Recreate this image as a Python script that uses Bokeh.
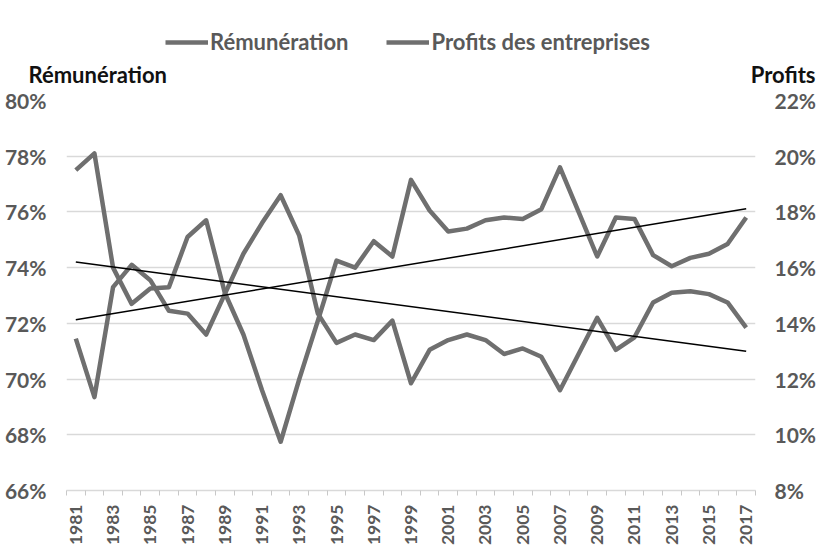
import math
from bokeh.plotting import figure
from bokeh.layouts import column
from bokeh.models import Range1d, LinearAxis, FixedTicker, Legend, LegendItem, Label
from bokeh.embed import file_html
from bokeh.resources import INLINE

# ---- data ----
years = list(range(1981, 2018))
remuneration = [77.5, 78.1, 74.0, 72.7, 73.25, 73.3, 75.1, 75.7, 73.1, 71.6,
                69.6, 67.75, 70.0, 72.1, 74.25, 74.0, 74.95, 74.4, 77.15, 76.05,
                75.3, 75.4, 75.7, 75.8, 75.75, 76.1, 77.6, 76.0, 74.4, 75.8,
                75.75, 74.45, 74.05, 74.35, 74.5, 74.85, 75.8]
profits = [13.45, 11.35, 15.3, 16.1, 15.55, 14.45, 14.35, 13.6, 15.05, 16.5,
           17.6, 18.6, 17.15, 14.35, 13.3, 13.6, 13.4, 14.1, 11.85, 13.05,
           13.4, 13.6, 13.4, 12.9, 13.1, 12.8, 11.6, 12.9, 14.2, 13.05,
           13.5, 14.75, 15.1, 15.15, 15.05, 14.75, 13.85]
trend_years = [1981, 2017]
trend_remuneration = [72.13, 76.11]
trend_profits = [16.2, 13.0]

left_ticks = [66, 68, 70, 72, 74, 76, 78, 80]
right_ticks = [8, 10, 12, 14, 16, 18, 20, 22]
label_years = [y for y in years if y % 2 == 1]

series_names = ["Rémunération", "Profits des entreprises"]
left_title = "Rémunération"
right_title = "Profits"

FONT = "Lato"
GRAY_TXT = "#595959"
LINE_COL = "#6f6f6f"
W = 819
HEAD_H = 87

# ---------------- header (legend + axis titles) ----------------
head = figure(width=W, height=HEAD_H, output_backend="svg", toolbar_location=None,
              x_range=Range1d(0, W), y_range=Range1d(HEAD_H, 0),
              x_axis_type=None, y_axis_type=None,
              min_border_left=0, min_border_right=0, min_border_top=0,
              min_border_bottom=0)
head.frame_align = False
head.outline_line_color = None
head.grid.visible = False
head.background_fill_color = "white"
head.border_fill_color = "white"

nan = float("nan")
h1 = head.line([nan], [nan], line_color=LINE_COL, line_width=4.5)
h2 = head.line([nan], [nan], line_color=LINE_COL, line_width=4.5)
legend = Legend(items=[LegendItem(label=series_names[0], renderers=[h1]),
                       LegendItem(label=series_names[1], renderers=[h2])],
                orientation="horizontal", location=(165, HEAD_H - 55))
legend.label_text_font = FONT
legend.label_text_font_style = "bold"
legend.label_text_font_size = "22px"
legend.label_text_color = GRAY_TXT
legend.glyph_width = 43
legend.glyph_height = 24
legend.label_height = 24
legend.label_standoff = 2
legend.spacing = 38
legend.padding = 0
legend.margin = 0
legend.border_line_color = None
legend.background_fill_alpha = 0
head.add_layout(legend, "center")

head.add_layout(Label(x=28, y=73.5, text=left_title, text_font=FONT,
                      text_font_style="bold", text_font_size="22px",
                      text_color="#111111", text_baseline="middle"))
head.add_layout(Label(x=815, y=73.5, text=right_title, text_font=FONT,
                      text_font_style="bold", text_font_size="22px",
                      text_color="#111111", text_baseline="middle",
                      text_align="right"))

# ---------------- main chart ----------------
p = figure(width=W, height=549 - HEAD_H, output_backend="svg",
           toolbar_location=None,
           x_range=Range1d(1980.5, 2017.5), y_range=Range1d(66, 80),
           min_border_left=66, min_border_right=61, min_border_top=100 - HEAD_H,
           min_border_bottom=59)
p.frame_align = False
p.extra_y_ranges = {"right": Range1d(8, 22)}
p.outline_line_color = None
p.background_fill_color = "white"
p.border_fill_color = "white"

# x axis
xa = p.xaxis[0]
xa.ticker = FixedTicker(ticks=label_years,
                        minor_ticks=[y - 0.5 for y in years] + [years[-1] + 0.5])
xa.major_label_orientation = math.pi / 2
xa.major_label_text_font = FONT
xa.major_label_text_font_style = "bold"
xa.major_label_text_font_size = "17.5px"
xa.major_label_text_color = GRAY_TXT
xa.major_label_standoff = 9
xa.axis_line_color = "#d9d9d9"
xa.axis_line_width = 1.5
xa.major_tick_line_color = None
xa.major_tick_out = 5
xa.major_tick_in = 0
xa.minor_tick_line_color = "#c8c8c8"
xa.minor_tick_out = 5
xa.minor_tick_in = 0

# left y axis
ya = p.yaxis[0]
ya.ticker = FixedTicker(ticks=left_ticks, minor_ticks=[])
ya.major_label_overrides = {t: f"{t}%" for t in left_ticks}
ya.major_label_text_font = FONT
ya.major_label_text_font_style = "bold"
ya.major_label_text_font_size = "21px"
ya.major_label_text_color = GRAY_TXT
ya.major_label_standoff = 20
ya.axis_line_color = None
ya.major_tick_line_color = None
ya.major_tick_out = 0
ya.major_tick_in = 0
ya.minor_tick_line_color = None

# right y axis
ra = LinearAxis(y_range_name="right",
                ticker=FixedTicker(ticks=right_ticks, minor_ticks=[]))
ra.major_label_overrides = {t: f"{t}%" for t in right_ticks}
ra.major_label_text_font = FONT
ra.major_label_text_font_style = "bold"
ra.major_label_text_font_size = "21px"
ra.major_label_text_color = GRAY_TXT
ra.major_label_standoff = 19
ra.axis_line_color = None
ra.major_tick_line_color = None
ra.major_tick_out = 0
ra.major_tick_in = 0
ra.minor_tick_line_color = None
p.add_layout(ra, "right")

p.xgrid.visible = False
p.ygrid.ticker = FixedTicker(ticks=left_ticks, minor_ticks=[])
p.ygrid.grid_line_color = "#d9d9d9"
p.ygrid.grid_line_width = 1.5

# series
p.line(years, remuneration, line_color=LINE_COL, line_width=4.5,
       line_join="round")
p.line(years, profits, line_color=LINE_COL, line_width=4.5,
       line_join="round", y_range_name="right")

# trend lines
p.line(trend_years, trend_remuneration, line_color="black", line_width=1.5)
p.line(trend_years, trend_profits, line_color="black", line_width=1.5,
       y_range_name="right")

layout = column(head, p, spacing=0)
open("out.html", "w").write(file_html(layout, INLINE))
